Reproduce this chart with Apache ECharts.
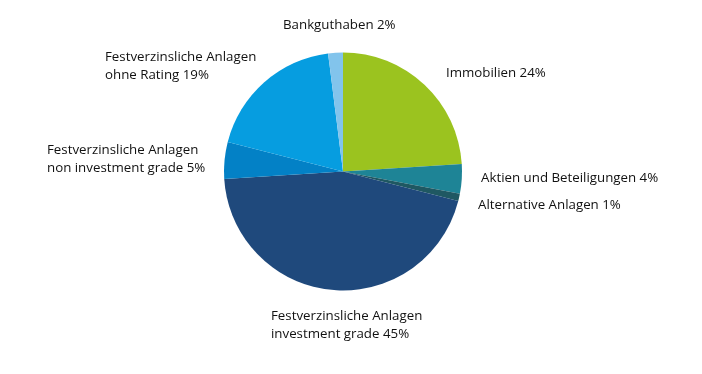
<!DOCTYPE html>
<html>
<head>
<meta charset="utf-8">
<script src="https://cdn.jsdelivr.net/npm/echarts@6/dist/echarts.min.js"></script>
<style>
html,body{margin:0;padding:0;background:#fff;}
#chart{width:702px;height:374px;}
</style>
</head>
<body>
<div id="chart"></div>
<script>
const categories = [
  "Immobilien",
  "Aktien und Beteiligungen",
  "Alternative Anlagen",
  "Festverzinsliche Anlagen\ninvestment grade",
  "Festverzinsliche Anlagen\nnon investment grade",
  "Festverzinsliche Anlagen\nohne Rating",
  "Bankguthaben"
];
const values = [24, 4, 1, 45, 5, 19, 2];
const colors = ["#9bc31f", "#1e8496", "#1f5862", "#1f497c", "#0381c6", "#069de0", "#82c4ec"];

// label anchor points (left edge, vertical middle), in pixels
const labelPos = [
  [446, 73], [481, 178], [478, 205], [271, 325], [47, 159], [105, 66], [283, 25]
];

const chart = echarts.init(document.getElementById('chart'), null, {renderer: 'canvas'});
chart.setOption({
  animation: false,
  backgroundColor: '#ffffff',
  series: [{
    type: 'pie',
    center: [343, 171.5],
    radius: 119,
    startAngle: 90,
    clockwise: true,
    avoidLabelOverlap: false,
    itemStyle: {borderWidth: 0},
    label: {
      show: true,
      position: 'outside',
      formatter: p => p.name + ' ' + p.value + '%',
      fontFamily: 'Open Sans',
      fontSize: 13.3,
      lineHeight: 18,
      color: '#111111'
    },
    labelLine: {show: false},
    labelLayout: function (params) {
      const pos = labelPos[params.dataIndex];
      return {x: pos[0], y: pos[1], align: 'left', verticalAlign: 'middle'};
    },
    emphasis: {disabled: true},
    data: categories.map((c, i) => ({name: c, value: values[i], itemStyle: {color: colors[i]}}))
  }]
});
</script>
</body>
</html>
